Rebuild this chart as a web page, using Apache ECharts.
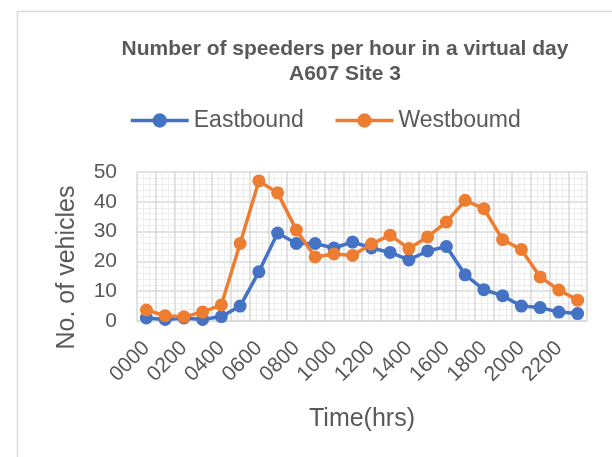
<!DOCTYPE html>
<html>
<head>
<meta charset="utf-8">
<script src="https://cdn.jsdelivr.net/npm/echarts@6/dist/echarts.min.js"></script>
<style>
  html, body { margin: 0; padding: 0; background: #fff; }
  #chart { width: 612px; height: 457px; }
</style>
</head>
<body>
<div id="chart"></div>
<script>
// hours of the virtual day
const hours = ['0000', '0100', '0200', '0300', '0400', '0500', '0600', '0700', '0800', '0900', '1000', '1100',
  '1200', '1300', '1400', '1500', '1600', '1700', '1800', '1900', '2000', '2100', '2200', '2300']
const eastbound = [1, 0.5, 1, 0.5, 1.5, 5, 16.5, 29.5, 26, 26, 24.5, 26.5,
  24.5, 23, 20.5, 23.5, 25, 15.5, 10.5, 8.5, 5, 4.5, 3, 2.5]
const westbound = [3.7, 1.8, 1.4, 3, 5.4, 26, 47, 43, 30.5, 21.5, 22.5, 22,
  25.8, 28.8, 24.3, 28.2, 33.2, 40.5, 37.7, 27.3, 24, 14.8, 10.4, 7]

const font = 'Liberation Sans, Arial, sans-serif'
const textColor = '#595959'

const chart = echarts.init(document.getElementById('chart'))
chart.setOption({
  animation: false,
  textStyle: { fontFamily: font, color: textColor },
  graphic: [{
    type: 'rect',
    shape: { x: 17.5, y: 11.5, width: 700, height: 500 },
    style: { fill: 'none', stroke: '#d9d9d9', lineWidth: 1.5 },
    silent: true
  }],
  title: {
    text: 'Number of speeders per hour in a virtual day\nA607 Site 3',
    left: 340,
    top: 32,
    textAlign: 'center',
    textStyle: { fontFamily: font, fontSize: 21, fontWeight: 'bold', color: textColor, lineHeight: 25 }
  },
  legend: {
    left: 124,
    top: 104,
    itemWidth: 58,
    itemHeight: 18,
    itemGap: 30,
    lineStyle: { width: 3.5 },
    textStyle: { fontFamily: font, fontSize: 23, color: textColor },
    data: ['Eastbound', 'Westboumd']
  },
  grid: { left: 137, right: 25, top: 172, bottom: 136 },
  xAxis: [{
    type: 'category',
    data: hours,
    boundaryGap: true,
    name: 'Time(hrs)',
    nameLocation: 'middle',
    nameGap: 86,
    nameTextStyle: { fontFamily: font, fontSize: 25, color: textColor },
    axisLine: { lineStyle: { color: '#d9d9d9', width: 1.5 } },
    axisTick: { show: false },
    axisLabel: { interval: 1, rotate: 45, margin: 24, fontSize: 21, color: textColor, fontFamily: font },
    splitLine: { show: true, interval: 0, lineStyle: { color: '#d9d9d9', width: 1.5 } }
  }, {
    // hidden axis only for the light minor vertical grid
    type: 'value',
    min: 0,
    max: 24,
    interval: 1,
    position: 'bottom',
    axisLine: { show: false },
    axisTick: { show: false },
    axisLabel: { show: false },
    splitLine: { show: false },
    minorTick: { show: false, splitNumber: 3 },
    minorSplitLine: { show: true, lineStyle: { color: '#ededed', width: 1 } }
  }],
  yAxis: {
    type: 'value',
    min: 0,
    max: 50,
    interval: 10,
    name: 'No. of vehicles',
    nameLocation: 'middle',
    nameGap: 57,
    nameTextStyle: { fontFamily: font, fontSize: 25, color: textColor, padding: [0, 42, 0, 0] },
    axisLine: { show: false },
    axisTick: { show: false },
    axisLabel: { margin: 20, fontSize: 21, color: textColor, fontFamily: font },
    splitLine: { lineStyle: { color: '#d9d9d9', width: 1.5 } },
    minorTick: { show: false, splitNumber: 5 },
    minorSplitLine: { show: true, lineStyle: { color: '#ededed', width: 1 } }
  },
  series: [{
    name: 'Eastbound',
    type: 'line',
    data: eastbound,
    symbol: 'circle',
    symbolSize: 13,
    showAllSymbol: true,
    color: '#4472C4',
    lineStyle: { width: 3.5 },
    z: 3
  }, {
    name: 'Westboumd',
    type: 'line',
    data: westbound,
    symbol: 'circle',
    symbolSize: 13,
    showAllSymbol: true,
    color: '#ED7D31',
    lineStyle: { width: 3.5 },
    z: 4
  }]
})
</script>
</body>
</html>
